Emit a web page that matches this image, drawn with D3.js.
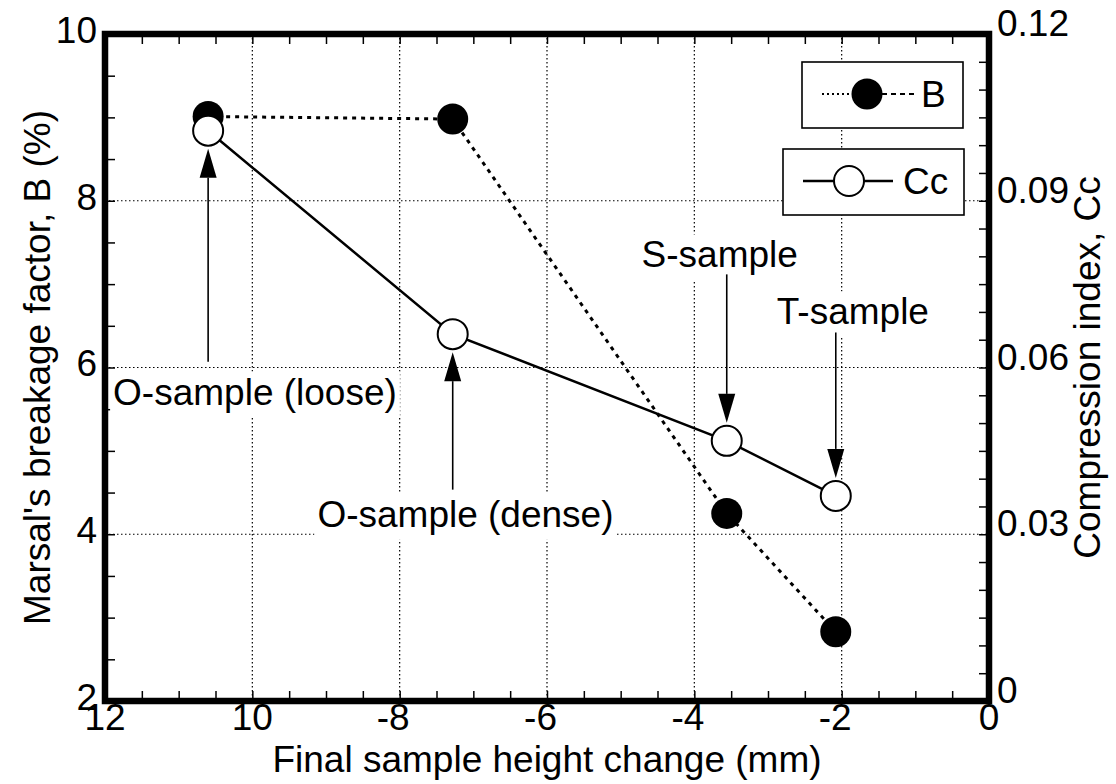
<!DOCTYPE html>
<html>
<head>
<meta charset="utf-8">
<script src="https://cdn.jsdelivr.net/npm/d3@7"></script>
<style>
  body { margin: 0; background: #fff; }
  svg { display: block; }
  text { font-family: "Liberation Sans", Arial, Helvetica, sans-serif; fill: #000; }
</style>
</head>
<body>
<svg id="chart" width="1116" height="784"></svg>
<script>
// Final sample height change (mm) for the four samples
const heightChange = [-10.6, -7.28, -3.56, -2.08];
// Marsal's breakage factor B (%)
const breakageB = [9.01, 8.98, 4.25, 2.83];
// Compression index Cc
const compressionCc = [0.1026, 0.066, 0.0468, 0.0369];

const xTicks = [-12, -10, -8, -6, -4, -2, 0];
const xTickLabels = ["12", "10", "-8", "-6", "-4", "-2", "0"];
const yLeftTicks = [2, 4, 6, 8, 10];
const yLeftLabels = ["2", "4", "6", "8", "10"];
const yRightTicks = [0, 0.03, 0.06, 0.09, 0.12];
const yRightLabels = ["0", "0.03", "0.06", "0.09", "0.12"];

// Sample annotations: label, label anchor (data units), arrow tail (B-axis units), arrow direction
const sampleNames = ["O-sample (loose)", "O-sample (dense)", "S-sample", "T-sample"];
const labelX = [-11.89, -7.107, -3.655, -1.848];
const labelBaseline = [5.556, 4.09, 7.20, 6.517];
const labelAnchor = ["start", "middle", "middle", "middle"];
const arrowTail = [6.07, 4.535, 7.117, 6.42];
const arrowUp = [true, true, false, false];

const FS = 37;
const svg = d3.select("#chart");

const pLeft = 105, pRight = 989, pTop = 34, pBottom = 701;
const x = d3.scaleLinear().domain([-12, 0]).range([pLeft, pRight]);
const yB = d3.scaleLinear().domain([2, 10]).range([pBottom, pTop]);
const yC = d3.scaleLinear().domain([0, 0.12]).range([pBottom, pTop]);

// Dotted grid at interior major ticks
const grid = svg.append("g").attr("stroke", "#000").attr("stroke-width", 1.2)
  .attr("stroke-dasharray", "1.5,2.5");
grid.selectAll("line.gx").data(xTicks.slice(1, -1)).join("line")
  .attr("x1", d => x(d)).attr("x2", d => x(d)).attr("y1", pTop).attr("y2", pBottom);
grid.selectAll("line.gy").data(yLeftTicks.slice(1, -1)).join("line")
  .attr("y1", d => yB(d)).attr("y2", d => yB(d)).attr("x1", pLeft).attr("x2", pRight);

// Minor ticks pointing into the plot on all four sides
function tickAxis(axis, tr) {
  const g = svg.append("g").attr("transform", tr).call(axis);
  g.select(".domain").remove();
  g.selectAll("line").attr("stroke", "#000").attr("stroke-width", 1.5);
  g.selectAll("text").remove();
}
const xMinor = d3.range(-12, 0.001, 0.5);
const yMinor = d3.range(2, 10.001, 0.5);
const cMinor = d3.range(0, 0.1201, 0.005);
tickAxis(d3.axisBottom(x).tickValues(xMinor).tickSize(-10), `translate(0,${pBottom})`);
tickAxis(d3.axisTop(x).tickValues(xMinor).tickSize(-10), `translate(0,${pTop})`);
tickAxis(d3.axisLeft(yB).tickValues(yMinor).tickSize(-10), `translate(${pLeft},0)`);
tickAxis(d3.axisRight(yC).tickValues(cMinor).tickSize(-10), `translate(${pRight},0)`);

// Frame
svg.append("rect").attr("x", pLeft).attr("y", pTop)
  .attr("width", pRight - pLeft).attr("height", pBottom - pTop)
  .attr("fill", "none").attr("stroke", "#000").attr("stroke-width", 6.5);

// Tick labels
svg.append("g").attr("font-size", FS).selectAll("text").data(xTicks).join("text")
  .attr("x", (d, i) => xTickLabels[i].startsWith("-") ? x(d) + 10 : x(d))
  .attr("y", pBottom + 29)
  .attr("text-anchor", (d, i) => xTickLabels[i].startsWith("-") ? "end" : "middle")
  .text((d, i) => xTickLabels[i]);

svg.append("g").attr("font-size", FS).selectAll("text").data(yLeftTicks).join("text")
  .attr("x", pLeft - 8).attr("y", d => yB(d) - 4)
  .attr("dy", "0.35em").attr("text-anchor", "end")
  .text((d, i) => yLeftLabels[i]);

svg.append("g").attr("font-size", FS).selectAll("text").data(yRightTicks).join("text")
  .attr("x", pRight + 8).attr("y", d => yC(d) + 2)
  .attr("text-anchor", "start")
  .text((d, i) => yRightLabels[i]);

// Axis titles
svg.append("text").attr("font-size", FS)
  .attr("x", (pLeft + pRight) / 2).attr("y", 772).attr("text-anchor", "middle")
  .text("Final sample height change (mm)");
svg.append("text").attr("font-size", FS)
  .attr("transform", `translate(50,${(pTop + pBottom) / 2}) rotate(-90)`)
  .attr("text-anchor", "middle")
  .text("Marsal's breakage factor, B (%)");
svg.append("text").attr("font-size", FS)
  .attr("transform", `translate(1100,${(pTop + pBottom) / 2}) rotate(-90)`)
  .attr("text-anchor", "middle")
  .text("Compression index, Cc");

// Annotation labels on white boxes, with arrows to the Cc markers
const R = 15;
const ann = svg.append("g");
sampleNames.forEach((name, i) => {
  const t = ann.append("text").attr("font-size", FS)
    .attr("x", x(labelX[i])).attr("y", yB(labelBaseline[i]))
    .attr("text-anchor", labelAnchor[i]).text(name);
  const bb = t.node().getBBox();
  ann.insert("rect", () => t.node())
    .attr("x", bb.x - 3).attr("y", bb.y)
    .attr("width", bb.width + 6).attr("height", bb.height + 5)
    .attr("fill", "#fff");
});

const arrows = svg.append("g");
heightChange.forEach((hx, i) => {
  const ax = x(hx);
  const cy = yC(compressionCc[i]);
  const tail = yB(arrowTail[i]);
  const tip = arrowUp[i] ? cy + R + 3 : cy - R - 3;
  const dir = arrowUp[i] ? 1 : -1;
  const headLen = 29, headHalf = 8.5;
  arrows.append("line").attr("x1", ax).attr("x2", ax)
    .attr("y1", tail).attr("y2", tip + dir * headLen)
    .attr("stroke", "#000").attr("stroke-width", 1.6);
  arrows.append("path")
    .attr("d", `M${ax},${tip} L${ax - headHalf},${tip + dir * headLen} L${ax + headHalf},${tip + dir * headLen} Z`)
    .attr("fill", "#000");
});

// Series data as point objects
const pts = heightChange.map((h, i) => ({ h, b: breakageB[i], c: compressionCc[i] }));

// B: dotted line with filled circles
svg.append("path").datum(pts)
  .attr("d", d3.line().x(d => x(d.h)).y(d => yB(d.b)))
  .attr("fill", "none").attr("stroke", "#000").attr("stroke-width", 3)
  .attr("stroke-dasharray", "4,5");
// Cc: solid line with open circles
svg.append("path").datum(pts)
  .attr("d", d3.line().x(d => x(d.h)).y(d => yC(d.c)))
  .attr("fill", "none").attr("stroke", "#000").attr("stroke-width", 2.5);

svg.append("g").selectAll("circle").data(pts).join("circle")
  .attr("cx", d => x(d.h)).attr("cy", d => yB(d.b)).attr("r", R + 0.5)
  .attr("fill", "#000");
svg.append("g").selectAll("circle").data(pts).join("circle")
  .attr("cx", d => x(d.h)).attr("cy", d => yC(d.c)).attr("r", R)
  .attr("fill", "#fff").attr("stroke", "#000").attr("stroke-width", 2);

// Legend
const lg = svg.append("g");
lg.append("rect").attr("x", 802).attr("y", 62).attr("width", 161).attr("height", 66)
  .attr("fill", "#fff").attr("stroke", "#000").attr("stroke-width", 1.6);
lg.append("line").attr("x1", 822).attr("x2", 852).attr("y1", 94).attr("y2", 94)
  .attr("stroke", "#000").attr("stroke-width", 2).attr("stroke-dasharray", "2,3");
lg.append("line").attr("x1", 882).attr("x2", 914).attr("y1", 94).attr("y2", 94)
  .attr("stroke", "#000").attr("stroke-width", 2).attr("stroke-dasharray", "5,4");
lg.append("circle").attr("cx", 867).attr("cy", 94).attr("r", R + 0.5).attr("fill", "#000");
lg.append("text").attr("font-size", FS).attr("x", 921).attr("y", 107).text("B");

lg.append("rect").attr("x", 783).attr("y", 149).attr("width", 181).attr("height", 66)
  .attr("fill", "#fff").attr("stroke", "#000").attr("stroke-width", 1.6);
lg.append("line").attr("x1", 803).attr("x2", 893).attr("y1", 181).attr("y2", 181)
  .attr("stroke", "#000").attr("stroke-width", 2.5);
lg.append("circle").attr("cx", 849).attr("cy", 181).attr("r", R)
  .attr("fill", "#fff").attr("stroke", "#000").attr("stroke-width", 2);
lg.append("text").attr("font-size", FS).attr("x", 903).attr("y", 194).text("Cc");
</script>
</body>
</html>
